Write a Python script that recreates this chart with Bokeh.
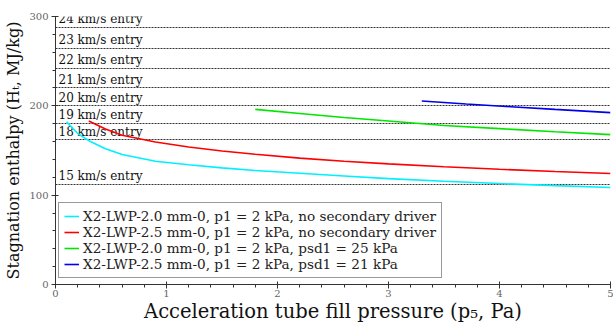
from bokeh.plotting import figure
from bokeh.models import Range1d, FixedTicker, Legend, LegendItem, ColumnDataSource
from bokeh.core.properties import value
from bokeh.embed import file_html
from bokeh.resources import INLINE

# Entry-speed reference lines
entry_speeds = ["15", "18", "19", "20", "21", "22", "23", "24"]
entry_enthalpy = [112.5, 162.0, 180.5, 200.0, 220.5, 242.0, 264.5, 288.0]

# Series
cyan_x = [0.10, 0.20, 0.30, 0.45, 0.60, 0.90, 1.20, 1.50, 1.80, 2.20, 2.60, 3.00, 3.50, 4.00, 4.50, 5.00]
cyan_y = [182.0, 169.0, 161.0, 152.0, 145.5, 138.0, 134.0, 130.5, 127.6, 124.5, 121.5, 118.5, 115.6, 113.0, 110.7, 108.6]

red_x = [0.30, 0.45, 0.60, 0.90, 1.20, 1.50, 1.80, 2.20, 2.60, 3.00, 3.50, 4.00, 4.50, 5.00]
red_y = [183.0, 174.0, 167.0, 159.6, 154.0, 149.5, 145.8, 141.5, 138.0, 135.0, 131.8, 129.0, 126.5, 124.2]

green_x = [1.80, 2.20, 2.60, 3.00, 3.50, 4.00, 4.50, 5.00]
green_y = [196.0, 191.5, 187.0, 183.0, 178.0, 174.5, 171.0, 167.8]

blue_x = [3.30, 3.70, 4.10, 4.50, 5.00]
blue_y = [205.4, 202.0, 199.0, 196.0, 192.4]

series_labels = [
    "X2-LWP-2.0 mm-0, p1 = 2 kPa, no secondary driver",
    "X2-LWP-2.5 mm-0, p1 = 2 kPa, no secondary driver",
    "X2-LWP-2.0 mm-0, p1 = 2 kPa, psd1 = 25 kPa",
    "X2-LWP-2.5 mm-0, p1 = 2 kPa, psd1 = 21 kPa",
]
series_colors = ["#00f0ff", "#ff0000", "#00e600", "#0000ee"]

x_ticks = [0, 1, 2, 3, 4, 5]
y_ticks = [0, 100, 200, 300]

FONT = "DejaVu Serif"

p = figure(width=613, height=325, output_backend="svg", toolbar_location=None,
           x_range=Range1d(0, 5), y_range=Range1d(0, 300),
           min_border_left=55, min_border_right=3, min_border_top=16, min_border_bottom=40)
p.outline_line_color = None
p.xgrid.visible = False
p.ygrid.visible = False

for ax in (p.xaxis[0], p.yaxis[0]):
    ax.axis_line_color = "#333333"
    ax.major_tick_line_color = "#333333"
    ax.minor_tick_line_color = "#333333"
    ax.major_tick_in = 3
    ax.major_tick_out = 4
    ax.minor_tick_in = 0
    ax.minor_tick_out = 3
    ax.major_label_text_font = FONT
    ax.major_label_text_font_size = "10px"
    ax.major_label_text_color = "#666666"
    ax.axis_label_text_font = FONT
    ax.axis_label_text_font_style = "normal"
    ax.axis_label_text_color = "#111111"

p.xaxis.ticker = FixedTicker(ticks=x_ticks, minor_ticks=[i * 0.2 for i in range(26)])
p.yaxis.ticker = FixedTicker(ticks=y_ticks, minor_ticks=[i * 20 for i in range(16)])
p.xaxis.axis_label = "Acceleration tube fill pressure (p\u2085, Pa)"
p.yaxis.axis_label = "Stagnation enthalpy (H\u209c, MJ/kg)"
p.xaxis.axis_label_text_font_size = "19.5px"
p.yaxis.axis_label_text_font_size = "16px"
p.xaxis.axis_label_standoff = 0
p.yaxis.axis_label_standoff = 3
p.xaxis.major_label_standoff = 1
p.yaxis.major_label_standoff = 3

# entry lines
src = ColumnDataSource(dict(y=entry_enthalpy, txt=[s + " km/s entry" for s in entry_speeds],
                            x=[0] * len(entry_speeds)))
p.hspan(y="y", source=src, line_color="#333333", line_width=1.2, line_dash="2 1")
p.text(x="x", y="y", text="txt", source=src, x_offset=3, y_offset=-1,
       text_baseline="bottom", text_align="left", text_font=value(FONT),
       text_font_size="12px", text_color="#111111")

items = []
for xs, ys, lab, col in zip([cyan_x, red_x, green_x, blue_x], [cyan_y, red_y, green_y, blue_y],
                            series_labels, series_colors):
    r = p.line(xs, ys, line_color=col, line_width=1.6)
    items.append(LegendItem(label=lab, renderers=[r]))

legend = Legend(items=items, location=(3, 6))
legend.label_text_font = FONT
legend.label_text_font_size = "13.6px"
legend.label_text_color = "#222222"
legend.border_line_color = "#333333"
legend.border_line_width = 1.5
legend.padding = 5
legend.spacing = 0
legend.margin = 0
legend.label_height = 14
legend.glyph_height = 14
legend.glyph_width = 15
legend.label_standoff = 4
legend.background_fill_alpha = 1.0
p.add_layout(legend, "center")

open("out.html", "w").write(file_html(p, INLINE))
